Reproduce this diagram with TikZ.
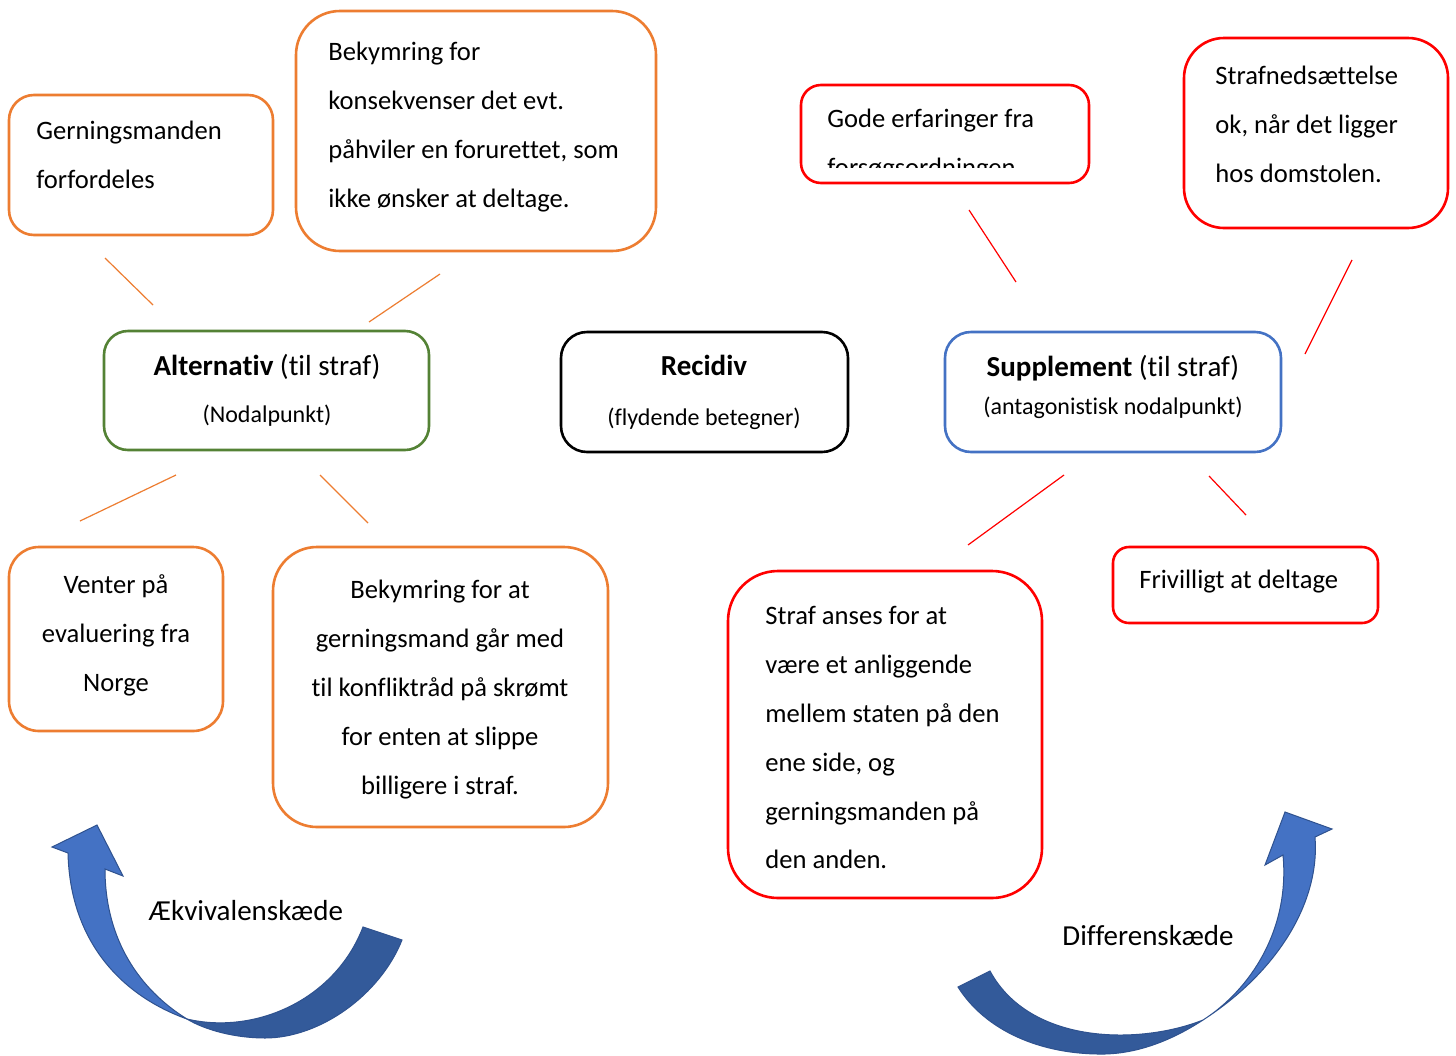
\documentclass[tikz,border=0pt]{standalone}
\usepackage{fontspec}
\setmainfont{Carlito}[RawFeature={-liga;-clig;-calt;-dlig}]
\definecolor{cOr}{HTML}{ED7D31}
\definecolor{cGr}{HTML}{548235}
\definecolor{cBl}{HTML}{4472C4}
\definecolor{cRd}{HTML}{FF0000}
\definecolor{cDk}{HTML}{335A9A}
\definecolor{cEdge}{HTML}{2F528F}
\newcommand\tstr{\rule{0pt}{10pt}}
\tikzset{
  boxshape/.style={draw, line width=1.3pt, rounded corners=#1, inner sep=0pt},
  txt/.style={inner sep=0pt, font=\fontsize{13.3}{24.45}\selectfont},
  ttl/.style={inner sep=0pt, font=\fontsize{14.5}{17}\selectfont},
  sub/.style={inner sep=0pt, font=\fontsize{12}{14}\selectfont},
  big/.style={inner sep=0pt, font=\fontsize{14.5}{17}\selectfont},
  oline/.style={draw=cOr, line width=0.6pt},
  rline/.style={draw=cRd, line width=0.6pt},
  darkpart/.style={fill=cDk, draw=cEdge, line width=0.5pt},
  lightpart/.style={fill=cBl, draw=cEdge, line width=0.5pt},
}
\begin{document}
\begin{tikzpicture}[x=0.5pt,y=-0.5pt]
\clip (0,0) rectangle (1456,1055);
\fill[white] (0,0) rectangle (1456,1055);

% curved arrows
\path[darkpart] (402,940) .. controls (380,995) and (320,1038) .. (265,1038)
  .. controls (235,1038) and (205,1030) .. (187,1019)
  .. controls (255,1035) and (335,1000) .. (363,927) -- cycle;
\path[lightpart] (187,1019) .. controls (120,995) and (70,940) .. (68,853)
  -- (52,847) -- (97,825) -- (123,876) -- (105,869)
  .. controls (105,940) and (140,990) .. (187,1019) -- cycle;

\path[darkpart] (958,987) .. controls (985,1030) and (1040,1055) .. (1105,1054)
  .. controls (1145,1053) and (1180,1035) .. (1203,1020)
  .. controls (1140,1045) and (1030,1045) .. (990,971) -- cycle;
\path[lightpart] (1203,1020) .. controls (1280,970) and (1320,900) .. (1315,837)
  -- (1332,829) -- (1285,812) -- (1265,865) -- (1283,855)
  .. controls (1290,930) and (1250,990) .. (1203,1020) -- cycle;

% boxes
\node[boxshape=12.5pt, draw=cOr, minimum width=132pt, minimum height=70pt] (gB) at (141,165) {};
\node[boxshape=22pt, draw=cOr, minimum width=180pt, minimum height=120pt] (bB) at (476,131) {};
\node[boxshape=12pt, draw=cGr, minimum width=162.5pt, minimum height=59.5pt] (aB) at (266.5,390.5) {};
\node[boxshape=13pt, draw=black, minimum width=143.5pt, minimum height=60pt] (rB) at (704.5,392) {};
\node[boxshape=13pt, draw=cBl, minimum width=168pt, minimum height=60pt] (sB) at (1113,392) {};
\node[boxshape=10pt, draw=cRd, minimum width=144pt, minimum height=49pt] (goB) at (945,134) {};
\node[boxshape=20pt, draw=cRd, minimum width=132pt, minimum height=95pt] (stB) at (1316,133) {};
\node[boxshape=15pt, draw=cOr, minimum width=107pt, minimum height=92pt] (vB) at (116,639) {};
\node[boxshape=22pt, draw=cOr, minimum width=167.5pt, minimum height=140pt] (b2B) at (440.5,687) {};
\node[boxshape=25pt, draw=cRd, minimum width=157pt, minimum height=163.5pt] (saB) at (885,734.5) {};
\node[boxshape=8pt, draw=cRd, minimum width=132.5pt, minimum height=38pt] (fB) at (1245.5,585) {};

% texts
\node[txt, anchor=north west, align=left] (gT) at (36,119) {\tstr Gerningsmanden\\forfordeles};
\node[txt, anchor=north west, align=left] (bT) at (328,40) {\tstr Bekymring for\\konsekvenser det evt.\\påhviler en forurettet, som\\ikke ønsker at deltage.};
\node[ttl, anchor=base] (aT) at (267,375) {\textbf{Alternativ} (til straf)};
\node[sub, anchor=base] (aS) at (267,422) {(Nodalpunkt)};
\node[ttl, anchor=base] (rT) at (704,375) {\textbf{Recidiv}};
\node[sub, anchor=base] (rS) at (704,425) {(flydende betegner)};
\node[ttl, anchor=base] (sT) at (1113,376) {\textbf{Supplement} (til straf)};
\node[sub, anchor=base] (sS) at (1113,414) {(antagonistisk nodalpunkt)};
\begin{scope}
\clip (801,85) rectangle (1089,167);
\node[txt, anchor=north west, align=left] (goT) at (827,107) {\tstr Gode erfaringer fra\\forsøgsordningen};
\end{scope}
\node[txt, anchor=north west, align=left] (stT) at (1215,64) {\tstr Strafnedsættelse\\ok, når det ligger\\hos domstolen.};
\node[txt, anchor=north, align=center] (vT) at (116,573) {\tstr Venter på\\evaluering fra\\Norge};
\node[txt, anchor=north, align=center] (b2T) at (440,578) {\tstr Bekymring for at\\gerningsmand går med\\til konfliktråd på skrømt\\for enten at slippe\\billigere i straf.};
\node[txt, anchor=north west, align=left] (saT) at (765,604) {\tstr Straf anses for at\\være et anliggende\\mellem staten på den\\ene side, og\\gerningsmanden på\\den anden.};
\node[txt, anchor=base west] (fT) at (1139,588) {Frivilligt at deltage};
\node[big, anchor=base] (aekT) at (246,920) {Ækvivalenskæde};
\node[big, anchor=base] (difT) at (1148,945) {Differenskæde};

% connectors (free-floating, as in the reference)
\coordinate (c1a) at (105,258); \coordinate (c1b) at (153,305);
\coordinate (c2a) at (440,274); \coordinate (c2b) at (369,322);
\coordinate (c3a) at (176,475); \coordinate (c3b) at (80,521);
\coordinate (c4a) at (320,475); \coordinate (c4b) at (368,523);
\coordinate (c5a) at (969,210); \coordinate (c5b) at (1016,282);
\coordinate (c6a) at (1352,260); \coordinate (c6b) at (1305,354);
\coordinate (c7a) at (1064,475); \coordinate (c7b) at (968,545);
\coordinate (c8a) at (1209,476); \coordinate (c8b) at (1246,515);
\draw[oline] (c1a) -- (c1b);
\draw[oline] (c2a) -- (c2b);
\draw[oline] (c3a) -- (c3b);
\draw[oline] (c4a) -- (c4b);
\draw[rline] (c5a) -- (c5b);
\draw[rline] (c6a) -- (c6b);
\draw[rline] (c7a) -- (c7b);
\draw[rline] (c8a) -- (c8b);
\end{tikzpicture}
\end{document}
